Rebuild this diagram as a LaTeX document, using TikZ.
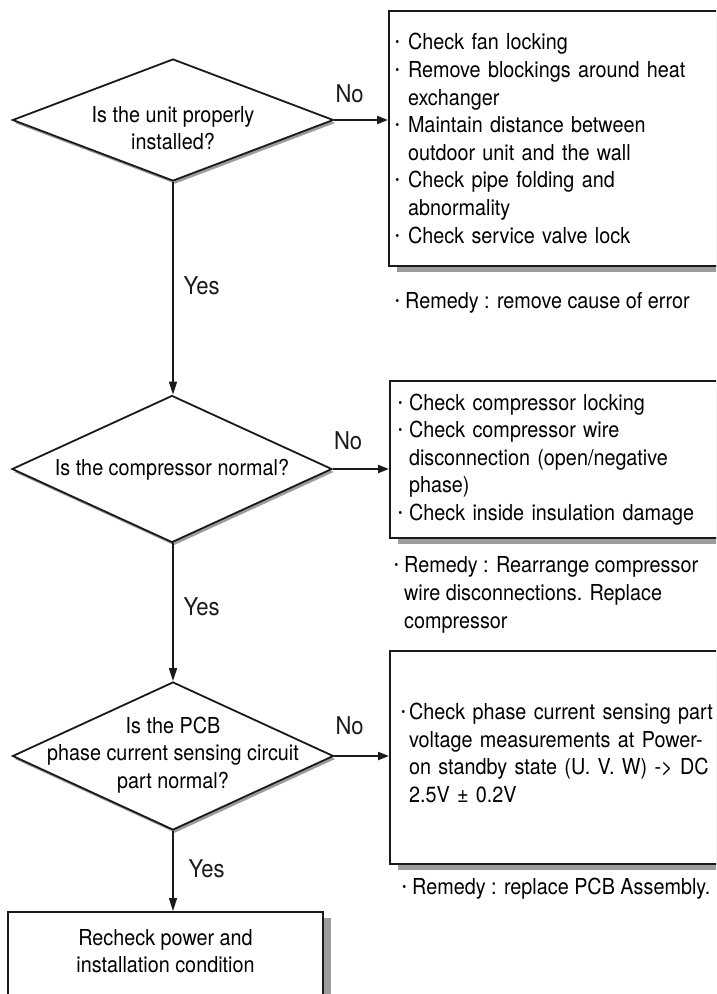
\documentclass[tikz,border=0pt]{standalone}
\usepackage{fontspec}
\setmainfont[FakeStretch=0.9]{TeX Gyre Heros}
\usetikzlibrary{positioning,arrows.meta,shapes.geometric,shadows}
\definecolor{cLine}{HTML}{1A1A1A}
\definecolor{cShade}{HTML}{9C9C9C}
\newcommand{\bl}[1][12pt]{\makebox[#1][l]{\hspace*{-1.5pt}\fontsize{30}{30}\selectfont\char"00B7}}
\tikzset{
  dia/.style={diamond, draw=cLine, line width=1.8pt, fill=white, inner sep=0pt,
              minimum width=321pt,
              drop shadow={shadow xshift=2pt, shadow yshift=-3pt, fill=cShade, opacity=1}},
  dlab/.style={align=center, inner sep=0pt},
  box/.style={rectangle, draw=cLine, line width=2pt, fill=white, anchor=north west,
              align=left, inner ysep=0pt,
              drop shadow={shadow xshift=8pt, shadow yshift=-6pt, fill=cShade, opacity=1}},
  rem/.style={anchor=base west, align=left, inner sep=0pt},
  arH/.style={-{Triangle[length=11pt, width=8pt]}, cLine, line width=2.2pt},
  arV/.style={-{Triangle[length=13pt, width=8pt]}, cLine, line width=1.4pt},
  lab/.style={anchor=base west, inner sep=0pt, font=\fontsize{24.5}{28}\selectfont}
}
\begin{document}
\begin{tikzpicture}[x=1pt, y=-1pt, font=\fontsize{22}{27.6}\selectfont]
\useasboundingbox (0,0) rectangle (716,994);
\clip (0,0) rectangle (716,994);
% decisions
\node[dia, minimum height=122pt,
  label={[dlab, yshift=-8pt]center:Is the unit properly\\installed?}] (d1) at (173,120) {};
\node[dia, minimum height=147pt, minimum width=320pt,
  label={[dlab, yshift=-1pt]center:Is the compressor normal?}] (d2) at (172,469) {};
\node[dia, minimum height=148pt,
  label={[dlab, yshift=1pt]center:Is the PCB\\phase current sensing circuit\\part normal?}] (d3) at (173,756) {};
% checks
\node[box, inner xsep=6pt, text width=330pt, minimum height=255pt] (b1) at (388,10)
  {\bl[13pt]Check fan locking\\
   \bl[13pt]Remove blockings around heat\\
   \hspace*{13pt}exchanger\\
   \bl[13pt]Maintain distance between\\
   \hspace*{13pt}outdoor unit and the wall\\
   \bl[13pt]Check pipe folding and\\
   \hspace*{13pt}abnormality\\
   \bl[13pt]Check service valve lock};
\node[box, inner xsep=8pt, text width=330pt, minimum height=157pt] (b2) at (389,380)
  {\bl[11pt]Check compressor locking\\
   \bl[11pt]Check compressor wire\\
   \hspace*{11pt}disconnection (open/negative\\
   \hspace*{11pt}phase)\\
   \bl[11pt]Check inside insulation damage};
\node[box, inner xsep=11pt, text width=330pt, minimum height=213pt] (b3) at (389,650)
  {\bl[8pt]Check phase current sensing part\\
   \hspace*{8pt}voltage measurements at Power-\\
   \hspace*{8pt}on standby state (U. V. W) -> DC\\
   \hspace*{8pt}2.5V ± 0.2V\\[-18pt]\mbox{}};
\node[box, anchor=north, minimum width=315pt, minimum height=120pt,
  label={[dlab, anchor=north, yshift=-18pt]north:Recheck power and\\installation condition}] (fin) at (165.5,911) {};
% remedies
\node[rem] (r1) at (395,308) {\bl[10pt]Remedy : remove cause of error};
\node[rem] (r2) at (394,628) {\bl[10pt]Remedy : Rearrange compressor\\
  \hspace*{10pt}wire disconnections. Replace\\\hspace*{10pt}compressor};
\node[rem] (r3) at (402,894) {\bl[10pt]Remedy : replace PCB Assembly.};
% flow
\draw[arH] (d1.east) -- (d1.east -| b1.west) node[lab, pos=0, yshift=18pt] {No};
\draw[arH] (d2.east) -- (d2.east -| b2.west) node[lab, pos=0, yshift=20pt] {No};
\draw[arH] (d3.east) -- (d3.east -| b3.west) node[lab, pos=0, yshift=22pt] {No};
\draw[arV] (d1.south) -- (d1.south |- d2.north) node[lab, pos=0.53, xshift=10pt] {Yes};
\draw[arV] (d2.south -| d1.south) -- (d3.north) node[lab, pos=0.52, xshift=10pt] {Yes};
\draw[arV] (d3.south) -- (d3.south |- fin.north) node[lab, pos=0.58, xshift=15pt] {Yes};
\end{tikzpicture}
\end{document}
